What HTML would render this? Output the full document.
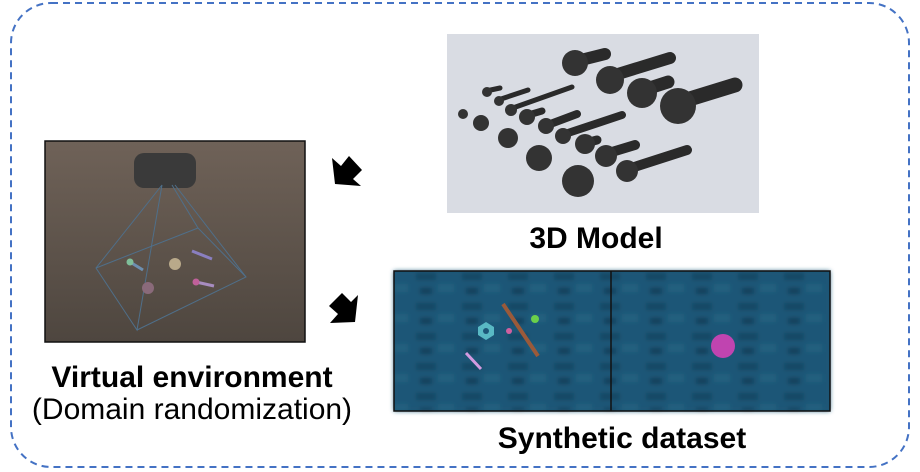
<!DOCTYPE html>
<html><head><meta charset="utf-8"><style>
html,body{margin:0;padding:0;background:#fff;}
svg{display:block;}
text{font-family:"Liberation Sans",Arial,sans-serif;}
</style></head><body>
<svg width="920" height="472" viewBox="0 0 920 472" xmlns="http://www.w3.org/2000/svg">
<defs>
<linearGradient id="wood" x1="0" y1="0" x2="0" y2="1">
<stop offset="0" stop-color="#6f6258"/><stop offset="1" stop-color="#4e463f"/>
</linearGradient>
<filter id="bl"><feGaussianBlur stdDeviation="2.5"/></filter>
<pattern id="tex" width="46" height="30" patternUnits="userSpaceOnUse">
<rect width="46" height="30" fill="#1c5777"/>
<rect x="2" y="3" width="20" height="7" fill="#144763"/>
<rect x="24" y="14" width="16" height="8" fill="#23617f"/>
<rect x="6" y="18" width="12" height="6" fill="#123e58"/>
</pattern>
</defs>
<rect x="11" y="3" width="898" height="464" rx="40" ry="40" fill="none" stroke="#4472c4" stroke-width="2" stroke-dasharray="7,5"/>

<!-- virtual env -->
<rect x="45" y="141" width="260" height="201" fill="url(#wood)" stroke="#111" stroke-width="1.5"/>
<rect x="134" y="153" width="62" height="35" rx="10" fill="#3a3a3a"/>
<g stroke="#4f6f8a" stroke-width="1" fill="none">
<polyline points="162,185 96,268 137,330 162,185"/>
<polyline points="175,185 246,277 137,330"/>
<polyline points="96,268 198,228 246,277"/>
<line x1="172" y1="185" x2="198" y2="228"/>
</g>
<circle cx="175" cy="264" r="6" fill="#b9a98a"/>
<line x1="130" y1="262" x2="143" y2="270" stroke="#6d8fb0" stroke-width="3"/>
<circle cx="130" cy="262" r="3.5" fill="#7fbf9a"/>
<line x1="192" y1="251" x2="212" y2="259" stroke="#8a7fc0" stroke-width="3"/>
<line x1="196" y1="282" x2="214" y2="286" stroke="#a78cc0" stroke-width="3"/>
<circle cx="196" cy="282" r="3.5" fill="#c0609a"/>
<circle cx="148" cy="288" r="6" fill="#8a6a7a"/>

<text x="192" y="387" text-anchor="middle" font-size="30" font-weight="bold" fill="#000">Virtual environment</text>
<text x="192" y="419" text-anchor="middle" font-size="30" fill="#000">(Domain randomization)</text>

<!-- arrows -->
<polygon points="332,158 341,166 349,156 362,170 353,179 361,186 335,184" fill="#000"/>
<polygon points="329,306 342,293 351,302 358,295 355,322 330,323 338,314" fill="#000"/>

<!-- 3D model -->
<rect x="447" y="34" width="312" height="179" fill="#d9dce3"/>
<g stroke="#2a2a2a" stroke-linecap="round">
<line x1="573" y1="62" x2="605" y2="54" stroke-width="12"/>
<line x1="605" y1="78" x2="670" y2="58" stroke-width="12"/>
<line x1="637" y1="92" x2="668" y2="82" stroke-width="13"/>
<line x1="670" y1="105" x2="735" y2="85" stroke-width="15"/>
<line x1="486" y1="91" x2="500" y2="88" stroke-width="5"/>
<line x1="498" y1="100" x2="528" y2="90" stroke-width="5"/>
<line x1="510" y1="109" x2="572" y2="87" stroke-width="5"/>
<line x1="525" y1="116" x2="542" y2="111" stroke-width="7"/>
<line x1="545" y1="126" x2="577" y2="114" stroke-width="8"/>
<line x1="562" y1="135" x2="622" y2="115" stroke-width="8"/>
<line x1="582" y1="144" x2="597" y2="140" stroke-width="9"/>
<line x1="602" y1="155" x2="635" y2="145" stroke-width="10"/>
<line x1="625" y1="170" x2="687" y2="150" stroke-width="10"/>
</g>
<g fill="#333">
<circle cx="575" cy="63" r="13"/><circle cx="610" cy="80" r="14"/><circle cx="642" cy="93" r="15"/><circle cx="678" cy="106" r="18"/>
<circle cx="487" cy="92" r="5"/><circle cx="499" cy="101" r="5"/><circle cx="511" cy="110" r="6"/><circle cx="527" cy="117" r="8"/>
<circle cx="546" cy="126" r="8"/><circle cx="563" cy="136" r="8"/><circle cx="585" cy="144" r="10"/><circle cx="606" cy="156" r="11"/><circle cx="627" cy="171" r="11"/>
<circle cx="463" cy="114" r="5"/><circle cx="481" cy="123" r="8"/><circle cx="508" cy="138" r="10"/><circle cx="539" cy="158" r="13"/><circle cx="578" cy="181" r="16"/>
</g>
<text x="596" y="248" text-anchor="middle" font-size="30" font-weight="bold" fill="#000">3D Model</text>

<!-- synthetic -->
<rect x="394" y="271" width="436" height="140" fill="#1c5777"/>
<rect x="394" y="271" width="436" height="140" fill="url(#tex)" filter="url(#bl)"/>
<rect x="394" y="271" width="436" height="140" fill="none" stroke="#111" stroke-width="1.5"/>
<line x1="611" y1="271" x2="611" y2="411" stroke="#111" stroke-width="1.5"/>
<line x1="503" y1="304" x2="538" y2="356" stroke="#9a5a3a" stroke-width="4"/>
<polygon points="478,327 486,322 494,327 494,335 486,340 478,335" fill="#59b9c4"/>
<circle cx="486" cy="331" r="3" fill="#1d5778"/>
<circle cx="535" cy="319" r="4" fill="#6bd04a"/>
<circle cx="509" cy="331" r="3" fill="#d060a0"/>
<line x1="466" y1="353" x2="481" y2="369" stroke="#d29ae0" stroke-width="3"/>
<circle cx="723" cy="346" r="12" fill="#c044b0"/>
<text x="622" y="448" text-anchor="middle" font-size="30" font-weight="bold" fill="#000">Synthetic dataset</text>
</svg>
</body></html>
